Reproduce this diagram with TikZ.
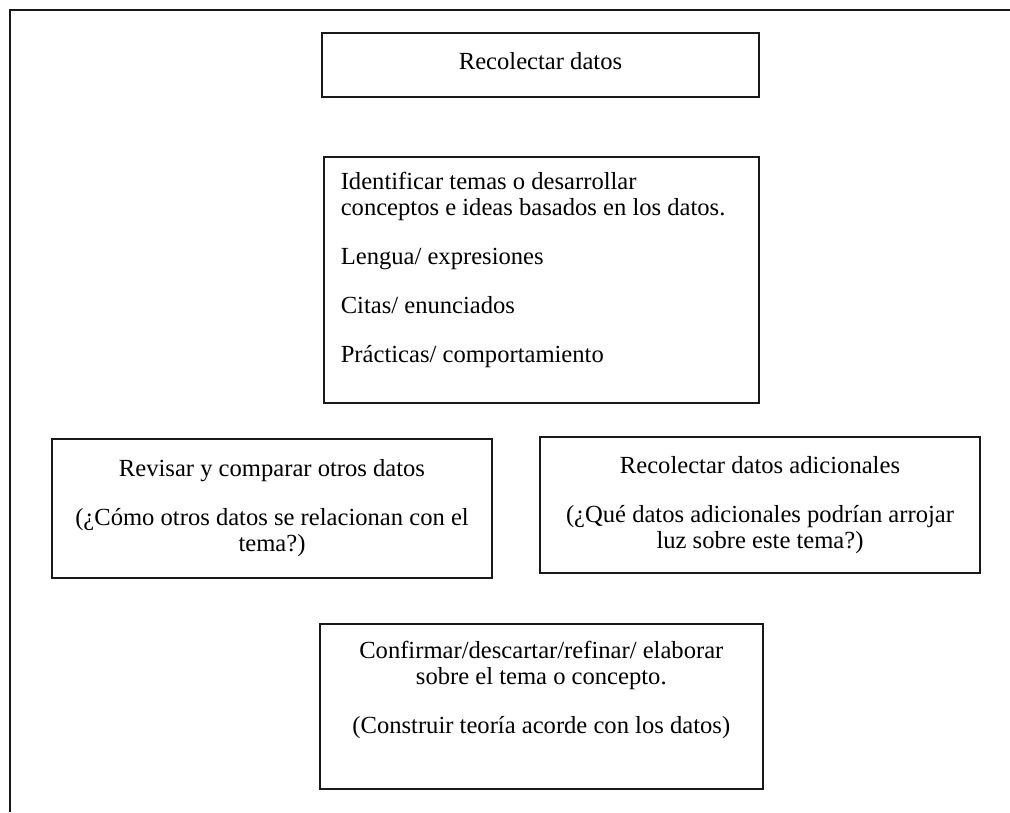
\documentclass[tikz,border=0pt]{standalone}
\usepackage{fontspec}
\setmainfont{Liberation Serif}
\usetikzlibrary{positioning}

\begin{document}
\begin{tikzpicture}[x=1pt, y=-1pt,
  caja/.style={draw=black!90, line width=1.6pt, align=center,
               font=\fontsize{24.6}{26}\selectfont, inner sep=0pt},
  marco/.style={draw=black!90, line width=1.6pt}]
  \useasboundingbox (0,0) rectangle (1010,812);
  \draw[marco] (1010,10) -- (10,10) -- (10,812);
  \node[caja, minimum width=437pt, minimum height=64pt, text depth=9pt] (recolectar) at (540.5,65) {Recolectar datos};
  \node[caja, anchor=north west, inner xsep=17pt, inner ysep=15pt] (temas) at (323,156)
    {\parbox[c][216pt][t]{401pt}{\raggedright Identificar temas o desarrollar\\
     conceptos e ideas basados en los datos.\\[23pt]
     Lengua/ expresiones\\[23pt]
     Citas/ enunciados\\[23pt]
     Prácticas/ comportamiento}};
  \node[caja, minimum width=440pt, minimum height=139pt] (revisar) at (272,508.5)
    {Revisar y comparar otros datos\\[23pt] (¿Cómo otros datos se relacionan con el\\ tema?)};
  \node[caja, minimum width=440pt, minimum height=136pt] (adicionales) at (760,505)
    {Recolectar datos adicionales\\[23pt] (¿Qué datos adicionales podrían arrojar\\ luz sobre este tema?)};
  \node[caja, anchor=north west, inner xsep=10pt, inner ysep=17pt] (confirmar) at (319,623)
    {\parbox[c][131pt][t]{423pt}{\centering Confirmar/descartar/refinar/ elaborar\\
     sobre el tema o concepto.\\[23pt]
     (Construir teoría acorde con los datos)}};
\end{tikzpicture}
\end{document}
